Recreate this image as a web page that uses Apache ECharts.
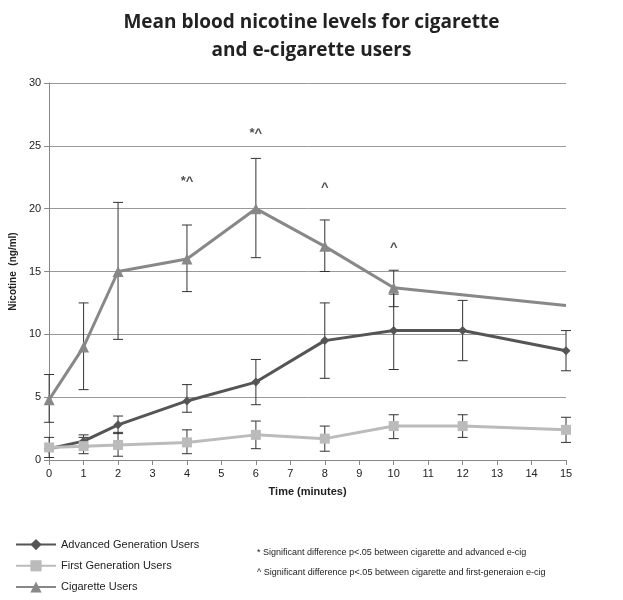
<!DOCTYPE html><html><head><meta charset="utf-8">
<script src="https://cdn.jsdelivr.net/npm/echarts@6/dist/echarts.min.js"></script>
<style>body{margin:0}#c{width:623px;height:600px}</style></head><body><div id="c"></div>
<script>
const xs=[0,1,2,4,6,8,10,12,15];
const advanced=[0.9,1.5,2.8,4.7,6.2,9.5,10.3,10.3,8.7];
const advLo=[0.9,1.0,2.1,3.8,4.4,6.5,7.2,7.9,7.1];
const advHi=[0.9,2.0,3.5,6.0,8.0,12.5,13.2,12.7,10.3];
const first=[1.0,1.1,1.2,1.4,2.0,1.7,2.7,2.7,2.4];
const firstLo=[0.2,0.5,0.3,0.5,0.9,0.7,1.7,1.8,1.4];
const firstHi=[1.8,1.8,2.2,2.4,3.1,2.7,3.6,3.6,3.4];
const cigX=[0,1,2,4,6,8,10,15];
const cig=[4.8,9,15,16,20,17,13.7,12.3];
const cigLo=[3.0,5.6,9.6,13.4,16.1,15.0,12.2,null];
const cigHi=[6.8,12.5,20.5,18.7,24.0,19.1,15.1,null];
const notes=[[4,22.2,'*^'],[6,26,'*^'],[8,21.7,'^'],[10,16.9,'^']];
function eb(x,lo,hi,color){
 return {type:'custom',silent:true,z:1,data:x.map((v,i)=>[v,lo[i],hi[i]]).filter(d=>d[1]!=null),
 renderItem:(p,api)=>{const a=api.coord([api.value(0),api.value(1)]),b=api.coord([api.value(0),api.value(2)]);const w=5;
 const st={stroke:color,lineWidth:1};
 return {type:'group',children:[{type:'line',shape:{x1:a[0],y1:a[1],x2:b[0],y2:b[1]},style:st},
 {type:'line',shape:{x1:a[0]-w,y1:a[1],x2:a[0]+w,y2:a[1]},style:st},{type:'line',shape:{x1:b[0]-w,y1:b[1],x2:b[0]+w,y2:b[1]},style:st}]};}};
}
const ch=echarts.init(document.getElementById('c'));
ch.setOption({
 title:{text:'Mean blood nicotine levels for cigarette\nand e-cigarette users',left:'center',top:4,textStyle:{fontFamily:'Open Sans',fontSize:19,fontWeight:'bold',color:'#222',lineHeight:28}},
 grid:{left:47,right:57,top:83,bottom:140},
 xAxis:{type:'value',min:0,max:15,interval:1,name:'Time (minutes)',nameLocation:'middle',nameGap:26,
  nameTextStyle:{fontWeight:'bold',fontSize:11,color:'#222'},axisLabel:{color:'#222',fontSize:11},axisLine:{lineStyle:{color:'#888'}},axisTick:{show:true,lineStyle:{color:'#888'}},splitLine:{show:false}},
 yAxis:{type:'value',min:0,max:30,interval:5,name:'Nicotine  (ng/ml)',nameLocation:'middle',nameGap:24,
  nameTextStyle:{fontWeight:'bold',fontSize:10,color:'#222'},axisLabel:{color:'#222',fontSize:11},axisLine:{show:true,lineStyle:{color:'#888'}},splitLine:{lineStyle:{color:'#999'}}},
 legend:{orient:'vertical',left:10,top:534,itemGap:10,itemWidth:40,textStyle:{fontSize:11,color:'#222'},
  data:['Advanced Generation Users','First Generation Users','Cigarette Users']},
 graphic:[{type:'text',left:257,top:548,style:{text:'* Significant difference p<.05 between cigarette and advanced e-cig',fontSize:9,fill:'#222'}},
  {type:'text',left:257,top:568,style:{text:'^ Significant difference p<.05 between cigarette and first-generaion e-cig',fontSize:9,fill:'#222'}}],
 series:[
  eb(xs,advLo,advHi,'#333'),eb(xs,firstLo,firstHi,'#333'),eb(cigX,cigLo,cigHi,'#333'),
  {name:'Advanced Generation Users',type:'line',data:xs.map((x,i)=>[x,advanced[i]]),color:'#555',lineStyle:{width:3},symbol:'diamond',symbolSize:9,itemStyle:{color:'#555'}},
  {name:'First Generation Users',type:'line',data:xs.map((x,i)=>[x,first[i]]),color:'#bbb',lineStyle:{width:3},symbol:'rect',symbolSize:10,itemStyle:{color:'#bbb'}},
  {name:'Cigarette Users',type:'line',data:cigX.map((x,i)=>i===cigX.length-1?{value:[x,cig[i]],symbol:'none'}:[x,cig[i]]),color:'#888',lineStyle:{width:3},symbol:'triangle',symbolSize:11,itemStyle:{color:'#888'}},
  {type:'scatter',symbolSize:0,silent:true,data:notes.map(n=>[n[0],n[1],n[2]]),label:{show:true,position:'inside',formatter:p=>p.data[2],fontSize:13,fontWeight:'bold',color:'#222'}}
 ]
});
</script></body></html>
